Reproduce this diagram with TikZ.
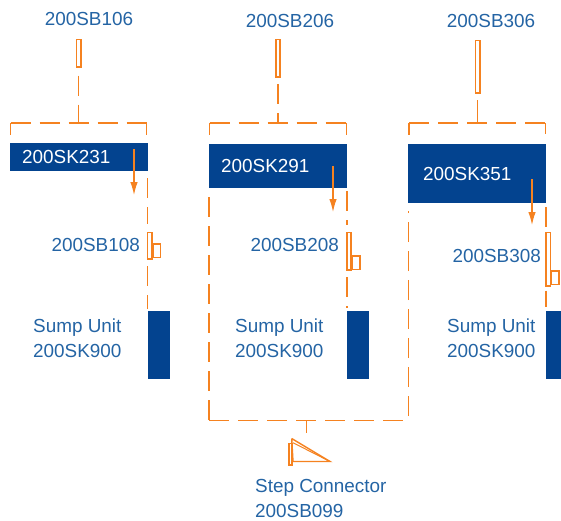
\documentclass[tikz,border=0pt]{standalone}
\usepackage{fontspec}
\setmainfont{Liberation Sans}
\usetikzlibrary{arrows.meta}

\definecolor{dropline}{HTML}{F58220}
\definecolor{barblue}{HTML}{03438F}
\definecolor{labelblue}{HTML}{2464A4}

\tikzset{
  label text/.style={inner sep=0pt, text=labelblue, align=left, font=\fontsize{18.9}{24.6}\selectfont},
  bar/.style={anchor=north west, fill=barblue, text=white, text width=114pt, inner xsep=12pt, inner ysep=0pt, align=left, font=\fontsize{18.9}{24.6}\selectfont},
  sump/.style={anchor=north west, fill=barblue, inner sep=0pt, minimum width=22pt, minimum height=68pt},
  switch/.style={anchor=north west, draw=dropline, line width=1.7pt, inner sep=0pt, minimum width=4.3pt},
  leg/.style={anchor=north west, draw=dropline, line width=1.4pt, inner sep=0pt, minimum width=7.4pt, minimum height=13.2pt},
  dash line/.style={draw=dropline, line width=1.1pt, dash pattern=on 20pt off 9pt},
  stub/.style={draw=dropline, line width=1.1pt},
  feed/.style={draw=dropline, line width=1.2pt, -{Latex[length=13pt,width=7.5pt]}}
}

\begin{document}
\begin{tikzpicture}[x=1pt,y=-1pt]
\useasboundingbox (0,0) rectangle (561,520);

% top switches
\node (sb106) [label text] at (89,19) {200SB106};
\node (sb206) [label text] at (290,21) {200SB206};
\node (sb306) [label text] at (491,21) {200SB306};
\node (top1) [switch, minimum height=27.3pt] at (75.5,38.7) {};
\node (top2) [switch, minimum height=37.3pt] at (275,38.7) {};
\node (top3) [switch, minimum height=52.3pt] at (474.5,39.7) {};

% bars
\node (sk231) [bar, minimum height=28pt] at (10,143) {200SK231};
\node (sk291) [bar, minimum height=44pt] at (209,144) {200SK291};
\node (sk351) [bar, minimum height=59pt, inner xsep=15pt, text width=108pt] at (408,144) {200SK351};

% sump units
\node (unit1) [sump] at (148,311) {};
\node (unit2) [sump] at (347,311) {};
\node (unit3) [sump, minimum width=15pt] at (546,311) {};
\node (sump1) [label text, anchor=west] at (33,338.5) {Sump Unit\\200SK900};
\node (sump2) [label text, anchor=west] at (235,338.5) {Sump Unit\\200SK900};
\node (sump3) [label text, anchor=west] at (447,338.5) {Sump Unit\\200SK900};

% side switches
\node (sb108) [switch, minimum height=26.6pt] at (146.7,231.7) {};
\node (sb208) [switch, minimum height=37.6pt] at (346,231.7) {};
\node (sb308) [switch, minimum height=53.7pt] at (545.3,231.5) {};
\node (leg1) [leg] at (152.4,243.4) {};
\node (leg2) [leg] at (352,255.3) {};
\node (leg3) [leg] at (551,270.3) {};
\node (lab108) [label text, anchor=east] at (140,245) {200SB108};
\node (lab208) [label text, anchor=east] at (339,245) {200SB208};
\node (lab308) [label text, anchor=east] at (541,256) {200SB308};

% brackets
\coordinate (tl1) at (10.5,123);
\coordinate (tr1) at (146.5,123);
\coordinate (tl2) at (209.5,123);
\coordinate (tr2) at (346.5,123);
\coordinate (tl3) at (409,123);
\coordinate (tr3) at (545.5,123);
\coordinate (bl) at (209,420.5);
\coordinate (br) at (408.5,420.5);

\draw[dash line] (tl1) -- (tr1);
\draw[dash line] (tl2) -- (tr2);
\draw[dash line] (tl3) -- (tr3);
\draw[stub] (tl1) -- ++(0,12);
\draw[stub] (tr1) -- ++(0,12);
\draw[stub] (tl2) -- ++(0,12);
\draw[stub] (tr2) -- ++(0,12);
\draw[stub] (tl3) -- ++(0,12);
\draw[stub] (tr3) -- ++(0,11);

% big box round the second unit
\draw[dash line] (209,197) -- (bl);
\draw[dash line] (bl) -- (403.5,420.5);
\draw[dash line] (408.5,416) -- (408.5,211);

% feeds from the top switches
\draw[dash line] (78.5,75.5) -- (78.5,123);
\draw[dash line] (278,84) -- (278,123);
\draw[stub] (477.5,100) -- (477.5,123);

% stem to the step connector
\coordinate (out) at (306.5,420.5);
\coordinate (stem) at (306.5,433);
\draw[stub] (out) -- (stem);

% drops
\draw[dash line] (147.5,178.3) -- (147.5,224);
\draw[dash line] (147.5,266) -- (147.5,309);
\draw[dash line] (347,191) -- (347,225);
\draw[dash line] (347,277.3) -- (347,308);
\draw[dash line] (546,207) -- (546,226.5);
\draw[dash line] (546,290.7) -- (546,307);

% arrows
\coordinate (from1) at (134,149);
\coordinate (to1) at (134,195);
\coordinate (from2) at (333,166);
\coordinate (to2) at (333,212);
\coordinate (from3) at (532,179);
\coordinate (to3) at (532,225);
\draw[feed] (from1) -- (to1);
\draw[feed] (from2) -- (to2);
\draw[feed] (from3) -- (to3);

% step connector
\node (stepbox) [switch, minimum width=3.3pt, minimum height=21.6pt] at (288,442.7) {};
\coordinate (apex) at (291.7,438.5);
\coordinate (tip) at (330,461.5);
\draw[draw=dropline, line width=1.4pt] (apex) -- (tip) -- (stepbox.east |- tip) -- (apex);
\draw[draw=dropline, line width=1pt] (stepbox.north east) -- (tip);
\node (step) [label text, anchor=north west] at (255,479.5) {Step Connector\\200SB099};

\end{tikzpicture}
\end{document}
